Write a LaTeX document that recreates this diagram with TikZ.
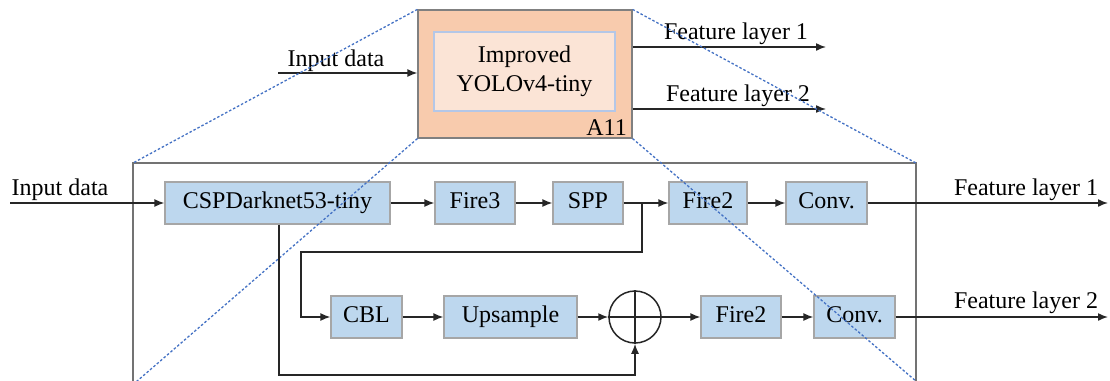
\documentclass[tikz,border=0pt]{standalone}
\usepackage{fontspec}
\setmainfont{Liberation Serif}
\usetikzlibrary{arrows.meta}
\definecolor{boxblue}{HTML}{BDD7EE}
\definecolor{boxgray}{HTML}{A6A6A6}
\definecolor{orangefill}{HTML}{F8CBAD}
\definecolor{innerfill}{HTML}{FBE4D6}
\definecolor{innerborder}{HTML}{B4C7E7}
\definecolor{dotblue}{HTML}{4472C4}
\definecolor{linecol}{HTML}{262626}
\tikzset{
  x=1pt, y=-1pt,
  txt/.style={font=\fontsize{24}{29}\selectfont, inner sep=0pt},
  blk/.style={draw=boxgray, fill=boxblue, line width=1.2pt, inner sep=0pt,
    text height=16pt, text depth=5pt,
    minimum height=42pt, font=\fontsize{24}{29}\selectfont},
  conn/.style={draw=linecol, line width=1.5pt, -{Latex[length=10pt,width=8pt]}},
  plain/.style={draw=linecol, line width=1.5pt},
  zoomline/.style={draw=dotblue, line width=1.3pt, dash pattern=on 2.5pt off 2pt},
}
\begin{document}
\begin{tikzpicture}
\useasboundingbox (0,0) rectangle (1110,380);
% top block
\node[draw=gray, fill=orangefill, line width=1.2pt, minimum width=214pt, minimum height=128pt, inner sep=0pt] (top) at (525,74) {};
\node[draw=innerborder, fill=innerfill, line width=1.2pt, minimum width=181pt, minimum height=79pt, inner sep=0pt, align=center, font=\fontsize{24}{29}\selectfont] (inner) at (524.5,71.5) {Improved\\YOLOv4-tiny};
\node[txt, anchor=base east] (a11) at (627,135) {A11};
% top connectors
\coordinate (tin) at (278,73);
\coordinate (tf1) at (826,47);
\coordinate (tf2) at (826,109);
\draw[conn] (tin) -- (top.west |- tin);
\draw[conn] (top.east |- tf1) -- (tf1);
\draw[conn] (top.east |- tf2) -- (tf2);
\node[txt, anchor=base] (tinl) at (336,66) {Input data};
\node[txt, anchor=base] (tf1l) at (736,39) {Feature layer 1};
\node[txt, anchor=base] (tf2l) at (738,101) {Feature layer 2};
% big frame
\coordinate (bl) at (133,382);
\coordinate (tl) at (133,163);
\coordinate (tr) at (916,163);
\coordinate (br) at (916,382);
\draw[draw=gray!90!black, line width=1.3pt] (bl) -- (tl) -- (tr) -- (br);
% row 1
\node[blk, minimum width=225pt] (csp) at (277.5,203) {CSPDarknet53-tiny};
\node[blk, minimum width=80pt] (fire3) at (475,203) {Fire3};
\node[blk, minimum width=70pt] (spp) at (588,203) {SPP};
\node[blk, minimum width=78pt] (fire2a) at (708,203) {Fire2};
\node[blk, minimum width=81pt] (conva) at (826.5,203) {Conv.};
% row 2
\node[blk, minimum width=71pt] (cbl) at (366.5,317) {CBL};
\node[blk, minimum width=133pt] (ups) at (510.5,317) {Upsample};
\node[draw=linecol, line width=1.5pt, circle, minimum size=52pt, inner sep=0pt] (add) at (635,317) {};
\draw[plain] (add.north) -- (add.south);
\draw[plain] (add.west) -- (add.east);
\node[blk, minimum width=80pt] (fire2b) at (741,317) {Fire2};
\node[blk, minimum width=81pt] (convb) at (854.5,317) {Conv.};
% zoom lines
\draw[zoomline] (top.north west) -- (tl);
\draw[zoomline] (top.north east) -- (tr);
\draw[zoomline] (top.south west) -- (136,382);
\draw[zoomline] (top.south east) -- (917,382);
% connectors row 1
\coordinate (bin) at (10,203);
\coordinate (bf1) at (1108,203);
\coordinate (bf2) at (1108,317);
\draw[conn] (bin) -- (csp);
\node[txt, anchor=base] (binl) at (60,195) {Input data};
\draw[conn] (csp) -- (fire3);
\draw[conn] (fire3) -- (spp);
\draw[conn] (spp) -- (fire2a);
\draw[conn] (fire2a) -- (conva);
\draw[conn] (conva) -- (bf1);
\node[txt, anchor=base] (bf1l) at (1026,195) {Feature layer 1};
% branch SPP -> CBL
\coordinate (br1) at (642,203);
\coordinate (br2) at (642,252);
\coordinate (br3) at (301,252);
\draw[conn] (br1) -- (br2) -- (br3) |- (cbl.west);
% row 2
\draw[conn] (cbl) -- (ups);
\draw[conn] (ups) -- (add);
\draw[conn] (add) -- (fire2b);
\draw[conn] (fire2b) -- (convb);
\draw[conn] (convb) -- (bf2);
\node[txt, anchor=base] (bf2l) at (1026,308) {Feature layer 2};
% CSP skip to add
\coordinate (sk) at (279,375);
\draw[conn] (csp.south -| sk) -- (sk) -| (add.south);
\end{tikzpicture}
\end{document}
